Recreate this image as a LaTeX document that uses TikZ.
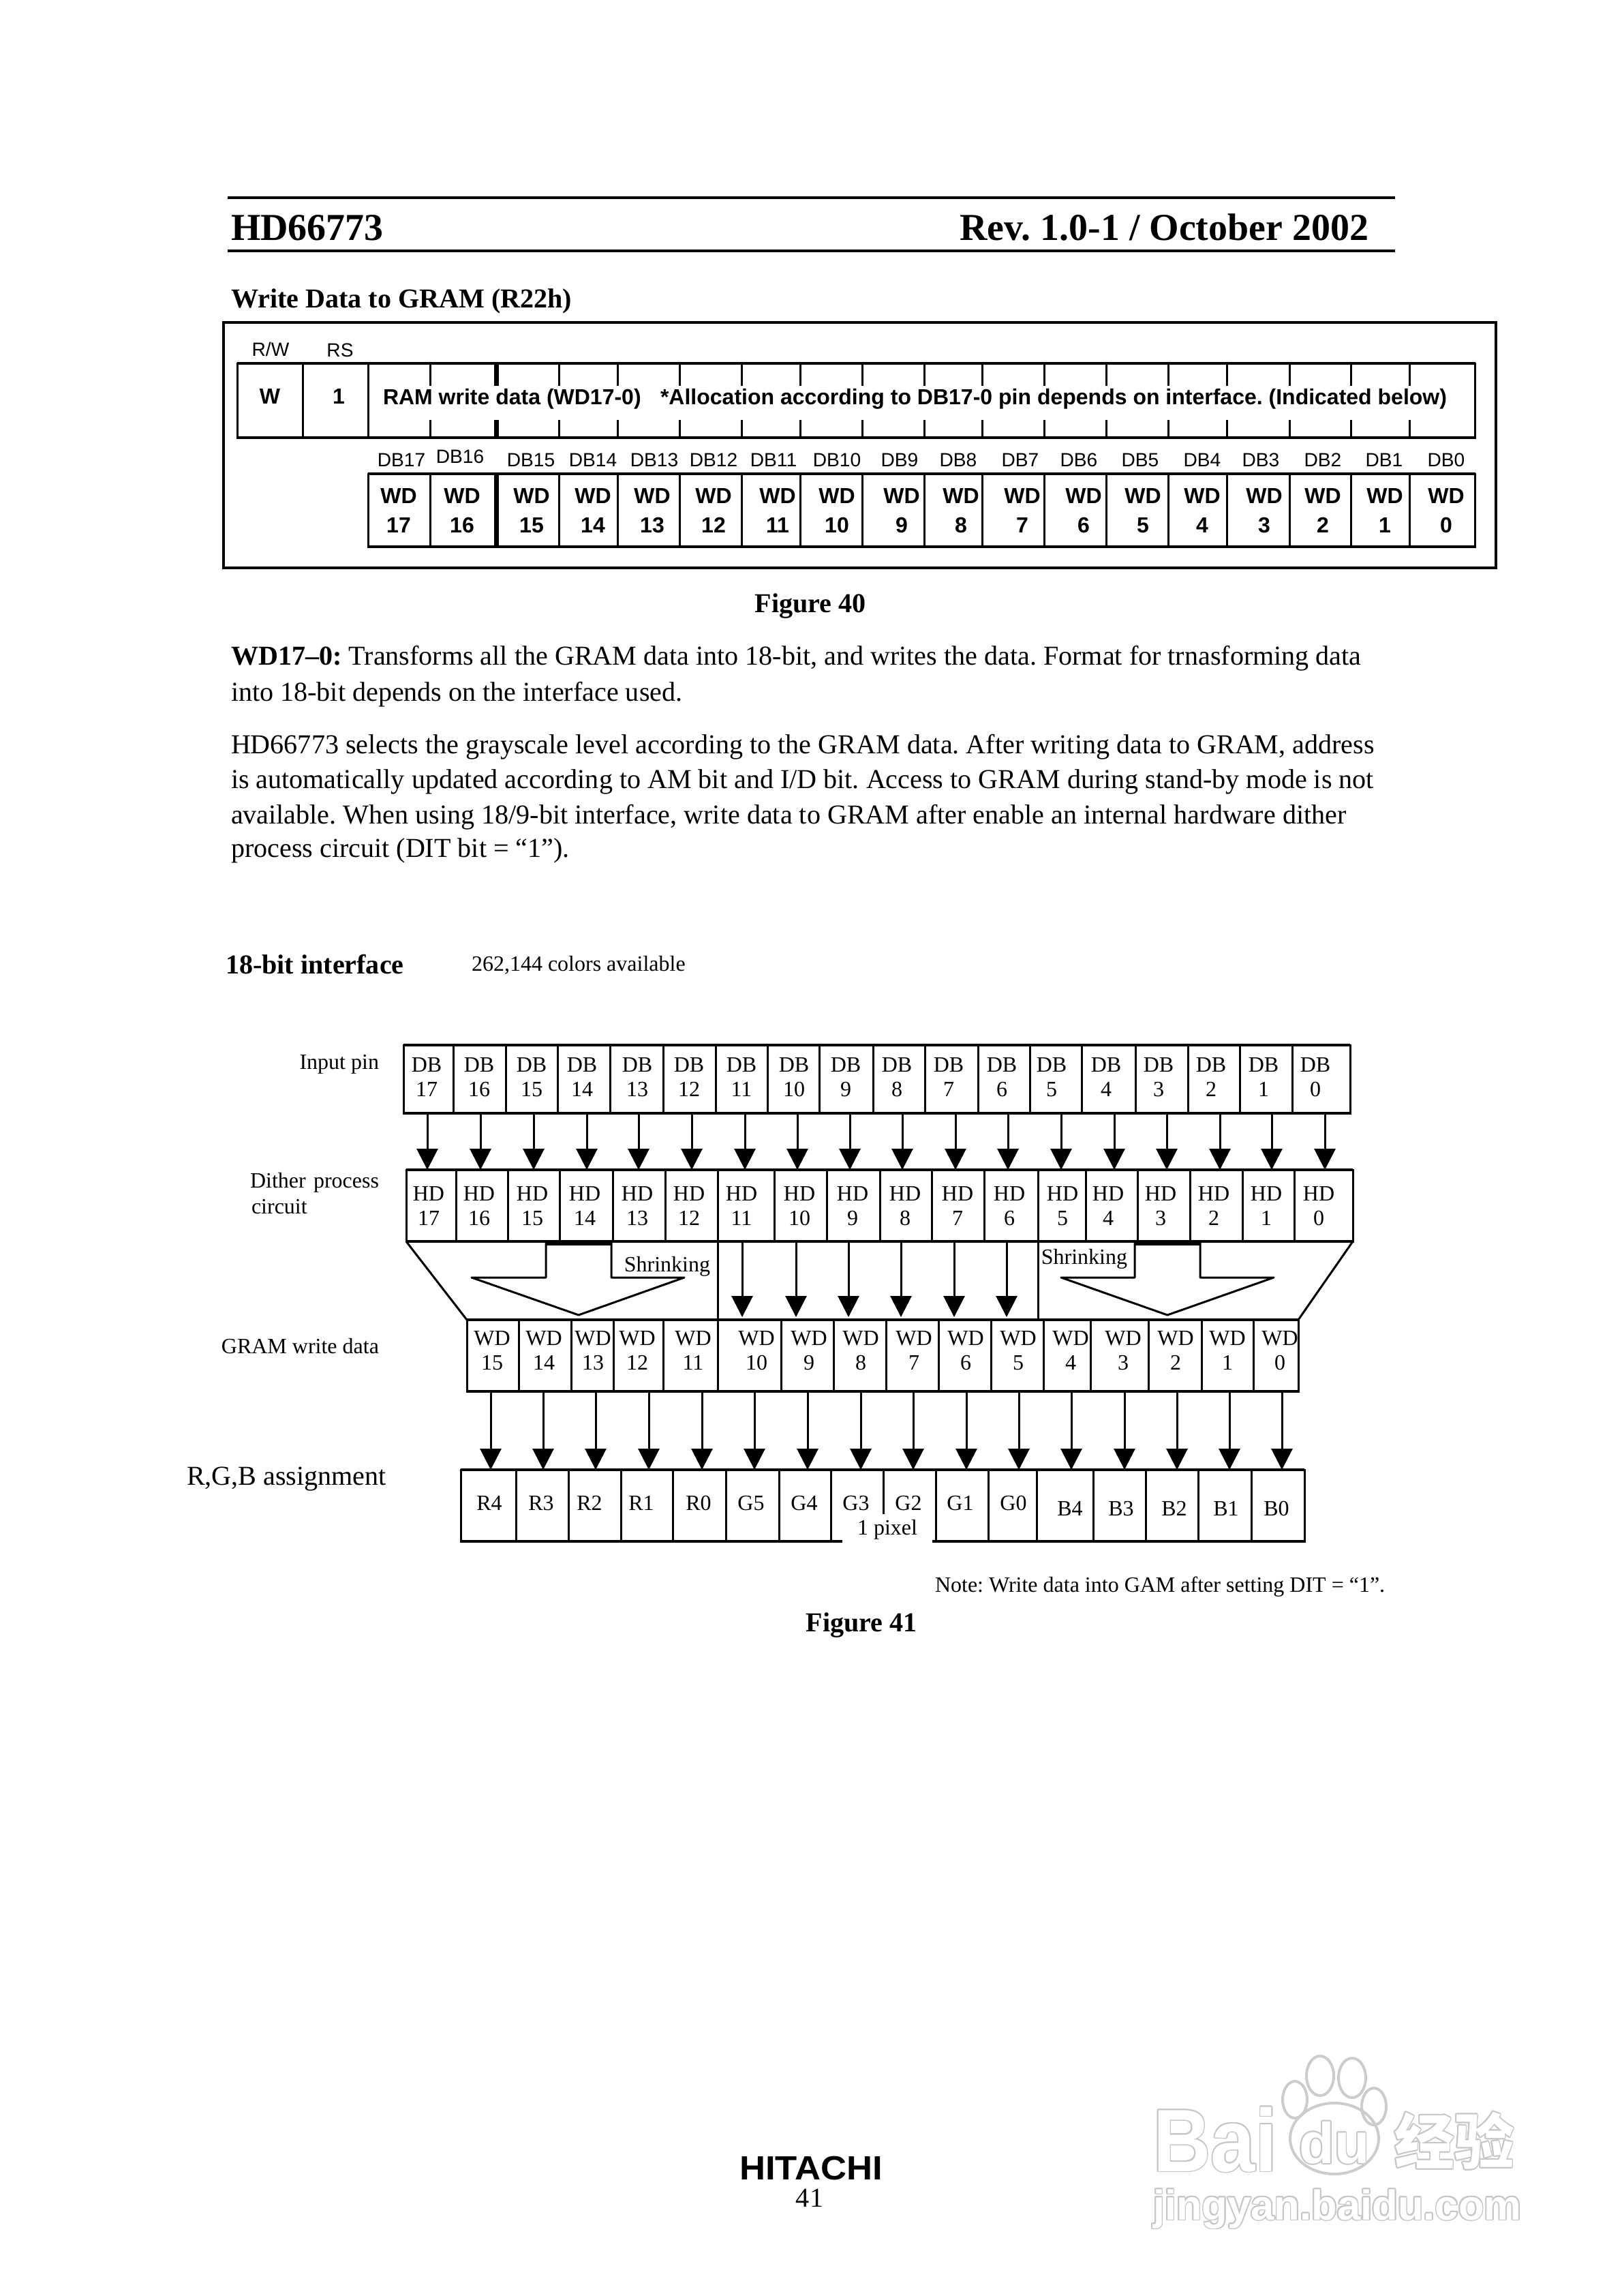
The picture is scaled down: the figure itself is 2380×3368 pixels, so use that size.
\documentclass[tikz,border=0pt]{standalone}
\usepackage{fontspec}
\usepackage[copies]{contour}
\setmainfont{Liberation Serif}
\setsansfont{Liberation Sans}
\newfontfamily\cjkfont{Noto Sans CJK SC}
\usetikzlibrary{arrows.meta}
\frenchspacing
\contourlength{0.5pt}
\contournumber{16}

\newcommand{\bodyfont}{\fontsize{11.4}{14}\selectfont}
\newcommand{\cellfont}{\fontsize{9.1}{10.2}\selectfont}
\newcommand{\sanscell}{\sffamily\bfseries\fontsize{9.1}{12.3}\selectfont}
\newcommand{\sanspin}{\sffamily\fontsize{8}{10}\selectfont}
\newcommand{\hollow}[1]{\contour{black!22}{#1}}

\tikzset{
  txt/.style={inner sep=0pt, outer sep=0pt, font=\bodyfont},
  boldtxt/.style={txt, font=\bodyfont\bfseries},
  small/.style={txt, font=\cellfont},
  celltext/.style={txt, align=center, font=\cellfont},
  regtext/.style={txt, align=center, font=\sanscell},
  pintext/.style={txt, font=\sanspin},
  cellbox/.style={draw, line width=0.03cm, inner sep=0pt, outer sep=0pt, anchor=north west},
  rail/.style={line width=0.045cm},
  edge/.style={line width=0.03cm},
  feed/.style={line width=0.03cm, -{Triangle[length=0.31cm, width=0.31cm]}},
  mark40/.style={line width=0.03cm},
  shade/.style={txt, text=white},
  toe/.style={draw=black!20, line width=0.04cm}
}

\begin{document}
\begin{tikzpicture}[x=0.01cm, y=-0.01cm]
        \useasboundingbox (0, 0) rectangle (2380, 3368);
        \coordinate (headl) at (334, 290);
        \coordinate (headr) at (2047, 290);
        \draw[rail] (headl) -- (headr);
        \draw[rail] (headl |- 0, 368) -- (headr |- 0, 368);
        \node[txt, anchor=base west, font=\fontsize{15.9}{18}\selectfont\bfseries] (chip) at (339, 352) {HD66773};
        \node[txt, anchor=base east, font=\fontsize{15.9}{18}\selectfont\bfseries] (rev) at (2008, 352) {Rev. 1.0-1 / October 2002};
        \node[boldtxt, anchor=base west] (title40) at (339, 451) {Write Data to GRAM (R22h)};

        \node[cellbox, line width=0.04cm, minimum width=18.66cm, minimum height=3.6cm] (frame40) at (328, 473) {};
        \node[cellbox, minimum width=0.96cm, minimum height=1.09cm] (regw) at (348, 533) {};
        \node[cellbox, minimum width=0.96cm, minimum height=1.09cm] (regrs) at (444, 533) {};
        \node[cellbox, minimum width=16.24cm, minimum height=1.09cm] (regdata) at (540, 533) {};
        \node[cellbox, minimum width=16.24cm, minimum height=1.07cm] (regbits) at (540, 695) {};
        \draw[rail] (regw.north west) -- (regdata.north east);
        \draw[rail] (regw.south west) -- (regdata.south east);
        \draw[rail] (regbits.north west) -- (regbits.north east);
        \draw[rail] (regbits.south west) -- (regbits.south east);
        \foreach \x in {631, 728, 820, 906, 997, 1088, 1174, 1265, 1356, 1441, 1532, 1623, 1714, 1800, 1892, 1982, 2068} {
                \draw[mark40] (regdata.north -| \x, 0) -- (\x, 566);
                \draw[mark40] (\x, 616) -- (regdata.south -| \x, 0);
                \draw[mark40] (regbits.north -| \x, 0) -- (regbits.south -| \x, 0);
        }
        \draw[line width=0.07cm] (regdata.north -| 728, 0) -- (728, 566);
        \draw[line width=0.07cm] (728, 616) -- (regdata.south -| 728, 0);
        \draw[line width=0.07cm] (regbits.north -| 728, 0) -- (regbits.south -| 728, 0);
        \node[pintext] (lblrw) at (397, 512) {R/W};
        \node[pintext] (lblrs) at (499, 514) {RS};
        \node[regtext] (txtw) at (396, 581) {W};
        \node[regtext] (txtrs) at (497, 581) {1};
        \node[regtext, anchor=west] (txtram) at (562, 585) {RAM write data (WD17-0)};
        \node[regtext, anchor=east] (txtalloc) at (2123, 585) {*Allocation according to DB17-0 pin depends on interface. (Indicated below)};
        \foreach \n/\a/\b/\y in {17/589/585/675, 16/675/678/670, 15/779/780/675, 14/870/870/675, 13/960/957/675, 12/1047/1047/675, 11/1135/1141/675, 10/1228/1228/675, 9/1320/1323/675, 8/1406/1410/675, 7/1497/1500/675, 6/1583/1590/675, 5/1673/1677/675, 4/1764/1764/675, 3/1850/1855/675, 2/1941/1941/675, 1/2031/2032/675, 0/2122/2122/675} {
                \node[pintext] (pin\n) at (\a, \y) {DB\n};
                \node[regtext] (bit\n) at (\b, 749) {WD\\\n};
        }
        \node[boldtxt] (fig40) at (1189, 889) {Figure 40};

        \node[txt, anchor=base west] (par1) at (339, 975) {\textbf{WD17--0:} Transforms all the GRAM data into 18-bit, and writes the data. Format for trnasforming data};
        \node[txt, anchor=base west] (par2) at (339, 1028) {into 18-bit depends on the interface used.};
        \node[txt, anchor=base west] (par3) at (339, 1105) {HD66773 selects the grayscale level according to the GRAM data. After writing data to GRAM, address};
        \node[txt, anchor=base west] (par4) at (339, 1156) {is automatically updated according to AM bit and I/D bit. Access to GRAM during stand-by mode is not};
        \node[txt, anchor=base west] (par5) at (339, 1208) {available. When using 18/9-bit interface, write data to GRAM after enable an internal hardware dither};
        \node[txt, anchor=base west] (par6) at (339, 1257) {process circuit (DIT bit = ``1'').};

        \node[boldtxt, anchor=base west] (title41) at (331, 1428) {18-bit interface};
        \node[small, anchor=base west] (colors) at (692, 1424) {262,144 colors available};
        \node[small, anchor=east] (lblinput) at (556, 1561) {Input pin};
        \node[small, anchor=east] (lbldither) at (556, 1735) {Dither\hspace{0.35em}process};
        \node[small, anchor=west] (lblcircuit) at (369, 1770) {circuit};
        \node[small, anchor=east] (lblgram) at (556, 1975) {GRAM write data};
        \node[txt, anchor=west] (lblrgb) at (274, 2170) {R,G,B assignment};

        \foreach \n/\r/\t/\a [remember=\r as \l (initially 592)] in {17/665/626/627, 16/742/703/705, 15/818/780/783, 14/895/854/861, 13/973/935/937, 12/1050/1011/1015, 11/1126/1088/1093, 10/1202/1165/1170, 9/1281/1241/1247, 8/1357/1316/1324, 7/1435/1392/1402, 6/1511/1470/1479, 5/1587/1543/1557, 4/1666/1623/1635, 3/1743/1700/1712, 2/1819/1777/1790, 1/1896/1854/1866, 0/1981/1930/1944} {
                \node[cellbox, minimum width={(\r-\l)*0.01cm}, minimum height=1cm] (db\n) at (\l, 1533) {};
                \node[celltext] (dbt\n) at (\t, 1580) {DB\\\n};
        }
        \foreach \n/\r/\t [remember=\r as \l (initially 596)] in {17/669/629, 16/745/703, 15/821/781, 14/899/858, 13/976/935, 12/1053/1011, 11/1136/1088, 10/1213/1173, 9/1291/1251, 8/1367/1328, 7/1444/1405, 6/1523/1481, 5/1593/1559, 4/1669/1626, 3/1746/1703, 2/1823/1781, 1/1899/1858, 0/1985/1935} {
                \node[cellbox, minimum width={(\r-\l)*0.01cm}, minimum height=1.05cm] (hd\n) at (\l, 1716) {};
                \node[celltext] (hdt\n) at (\t, 1769) {HD\\\n};
        }
        \foreach \n/\r/\t [remember=\r as \l (initially 685)] in {15/761/722, 14/838/798, 13/900/870, 12/973/935, 11/1053/1017, 10/1146/1110, 9/1223/1187, 8/1300/1263, 7/1377/1341, 6/1454/1417, 5/1531/1494, 4/1600/1571, 3/1685/1648, 2/1763/1725, 1/1839/1801, 0/1905/1878} {
                \node[cellbox, minimum width={(\r-\l)*0.01cm}, minimum height=1.05cm] (wd\n) at (\l, 1936) {};
                \node[celltext] (wdt\n) at (\t, 1981) {WD\\\n};
        }
        \foreach \n/\r/\t/\y/\c [remember=\r as \l (initially 676)] in {15/757/718/2205/R4, 14/834/794/2205/R3, 13/911/865/2205/R2, 12/987/941/2205/R1, 11/1065/1025/2205/R0, 10/1143/1102/2205/G5, 9/1219/1180/2205/G4, 8/1296/1256/2205/G3, 7/1373/1333/2205/G2, 6/1450/1409/2205/G1, 5/1521/1487/2205/G0, 4/1604/1570/2213/B4, 3/1681/1645/2213/B3, 2/1758/1723/2213/B2, 1/1836/1799/2213/B1, 0/1914/1873/2213/B0} {
                \node[cellbox, minimum width={(\r-\l)*0.01cm}, minimum height=1.05cm] (rgb\n) at (\l, 2156) {};
                \node[celltext] (rgbt\n) at (\t, \y) {\c};
        }
        \draw[rail] (db17.north west) -- (db0.north east);
        \draw[rail] (db17.south west) -- (db0.south east);
        \draw[rail] (hd17.north west) -- (hd0.north east);
        \draw[rail] (hd17.south west) -- (hd0.south east);
        \draw[rail] (wd15.north west) -- (wd0.north east);
        \draw[rail] (wd15.south west) -- (wd0.south east);
        \draw[rail] (rgb15.north west) -- (rgb0.north east);
        \draw[rail] (rgb15.south west) -- (rgb0.south east);
        \node[small, fill=white, minimum width=1.32cm, minimum height=0.46cm] (onepixel) at (1302, 2244) {1 pixel};

        \foreach \n/\a in {17/627, 16/705, 15/783, 14/861, 13/937, 12/1015, 11/1093, 10/1170, 9/1247, 8/1324, 7/1402, 6/1479, 5/1557, 4/1635, 3/1712, 2/1790, 1/1866, 0/1944} {
                \draw[feed] (db\n.south -| \a, 0) -- (hd\n.north -| \a, 0);
        }
        \foreach \n/\m/\a in {11/10/1089, 10/9/1168, 9/8/1245, 8/7/1322, 7/6/1400, 6/5/1477} {
                \draw[feed, shorten >=0.04cm] (hd\n.south -| \a, 0) -- (wd\m.north -| \a, 0);
        }
        \foreach \n/\a in {15/720, 14/797, 13/874, 12/952, 11/1030, 10/1107, 9/1185, 8/1263, 7/1340, 6/1418, 5/1495, 4/1572, 3/1650, 2/1727, 1/1804, 0/1881} {
                \draw[feed] (wd\n.south -| \a, 0) -- (rgb\n.north -| \a, 0);
        }

        \draw[edge] (hd12.south east) -- (wd11.north east);
        \draw[edge] (hd6.south east) -- (hd6.south east |- wd5.north);
        \draw[edge] (hd17.south west) -- (wd15.north west);
        \draw[edge] (hd0.south east) -- (wd0.north east);
        \draw[edge, line join=round] (801, 1821) -- (801, 1874) -- (692, 1874) -- (849, 1929) -- (1004, 1874) -- (897, 1874) -- (897, 1821);
        \draw[line width=0.06cm] (801, 1824) -- (897, 1824);
        \draw[edge, line join=round] (1665, 1821) -- (1665, 1874) -- (1557, 1874) -- (1713, 1929) -- (1869, 1874) -- (1761, 1874) -- (1761, 1821);
        \draw[line width=0.06cm] (1665, 1824) -- (1761, 1824);
        \node[small] (shrinkl) at (979, 1858) {Shrinking};
        \node[small] (shrinkr) at (1591, 1847) {Shrinking};

        \node[small, anchor=base west] (note) at (1372, 2335) {Note: Write data into GAM after setting DIT = ``1''.};
        \node[boldtxt] (fig41) at (1264, 2384) {Figure 41};

        \node[txt, font=\sffamily\bfseries\fontsize{14}{16}\selectfont] (logo) at (1190, 3181) {\scalebox{1.07}[1]{HITACHI}};
        \node[txt] (pageno) at (1188, 3224) {41};

        \node[shade, anchor=base west, font=\sffamily\bfseries\fontsize{37}{40}\selectfont] (wmbai) at (1692, 3185) {\scalebox{0.9}[1]{\hollow{Bai}}};
        \node[shade, font=\sffamily\bfseries\fontsize{24}{26}\selectfont] (wmdu) at (1958, 3144) {\hollow{du}};
        \node[shade, font=\cjkfont\bfseries\fontsize{25}{27}\selectfont] (wmjy) at (2134, 3141) {\hollow{经验}};
        \node[shade, anchor=base west, font=\sffamily\bfseries\fontsize{17.5}{20}\selectfont] (wmurl) at (1692, 3256) {\hollow{jingyan.baidu.com}};
        \draw[toe] (1958, 3137) ellipse (65 and 52);
        \draw[toe] (1937, 3045) ellipse (20 and 29);
        \draw[toe] (1984, 3048) ellipse (20 and 29);
        \draw[toe] (1900, 3080) ellipse (18 and 27);
        \draw[toe] (2016, 3090) ellipse (18 and 27);
      \end{tikzpicture}
\end{document}
